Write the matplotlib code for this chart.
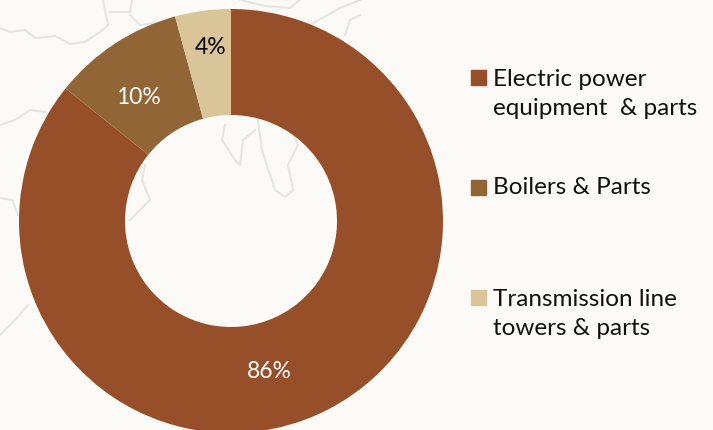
import matplotlib
matplotlib.use("Agg")
import matplotlib.pyplot as plt
from matplotlib.patches import Rectangle

categories = ["Electric power\nequipment  & parts", "Boilers & Parts", "Transmission line\ntowers & parts"]
shares = [85.75, 10, 4.25]
share_labels = ["86%", "10%", "4%"]
colors = ["#964F29", "#926537", "#D9C598"]
label_colors = ["white", "white", "black"]
label_pos = [(269, 371), (138, 97), (211, 47)]
legend_box_top = [70, 180, 290]
legend_text_y = [94, 187.5, 314]

# faint map outlines behind the donut, in pixels
map_lines = [
    ([0, 10, 25, 35, 55, 70, 85, 100, 108, 105, 103], [28, 32, 30, 38, 36, 44, 42, 32, 25, 10, 0]),
    ([110, 130, 132], [12, 12, 0]),
    ([130, 140, 160], [15, 25, 22]),
    ([240, 265, 290, 300], [0, 6, 8, 0]),
    ([310, 340, 360], [25, 8, 0]),
    ([345, 350, 360], [35, 20, 15]),
    ([0, 15, 30, 45], [125, 120, 110, 112]),
    ([0, 12, 18], [198, 200, 215]),
    ([225, 222, 235, 240, 243, 255], [125, 140, 160, 165, 140, 130]),
    ([258, 262, 275, 285, 293, 288, 298, 290], [120, 150, 190, 197, 190, 165, 145, 125]),
    ([145, 142, 150, 130], [165, 180, 200, 220]),
    ([0, 15, 28], [335, 320, 305]),
]

plt.rcParams["font.family"] = ["Lato", "DejaVu Sans"]
fig = plt.figure(figsize=(7.13, 4.30), dpi=100, facecolor="#FBFAF6")

back = fig.add_axes([0, 0, 1, 1], zorder=0)
back.set_xlim(0, 713)
back.set_ylim(430, 0)
back.axis("off")
for xs, ys in map_lines:
    back.plot(xs, ys, color="#E6E5E0", lw=1.5)

# donut centre (231, 221), outer radius 212
ax = fig.add_axes([19 / 713, 1 - 433 / 430, 424 / 713, 424 / 430], zorder=1)
ax.pie(
    shares,
    colors=colors,
    startangle=90,
    counterclock=False,
    radius=1,
    wedgeprops=dict(width=0.5, edgecolor="none"),
)
ax.set_xlim(-1, 1)
ax.set_ylim(-1, 1)

front = fig.add_axes([0, 0, 1, 1], zorder=2)
front.set_xlim(0, 713)
front.set_ylim(430, 0)
front.axis("off")
for (x, y), text, c in zip(label_pos, share_labels, label_colors):
    front.text(x, y, text, color=c, fontsize=16.5, ha="center", va="center")

for name, top, y, c in zip(categories, legend_box_top, legend_text_y, colors):
    front.add_patch(Rectangle((471, top), 15, 15, color=c))
    front.text(493, y, name, color="#111111", fontsize=17.5, va="center", ha="left", linespacing=1.46)

fig.savefig("out.png", dpi=100, facecolor=fig.get_facecolor())
